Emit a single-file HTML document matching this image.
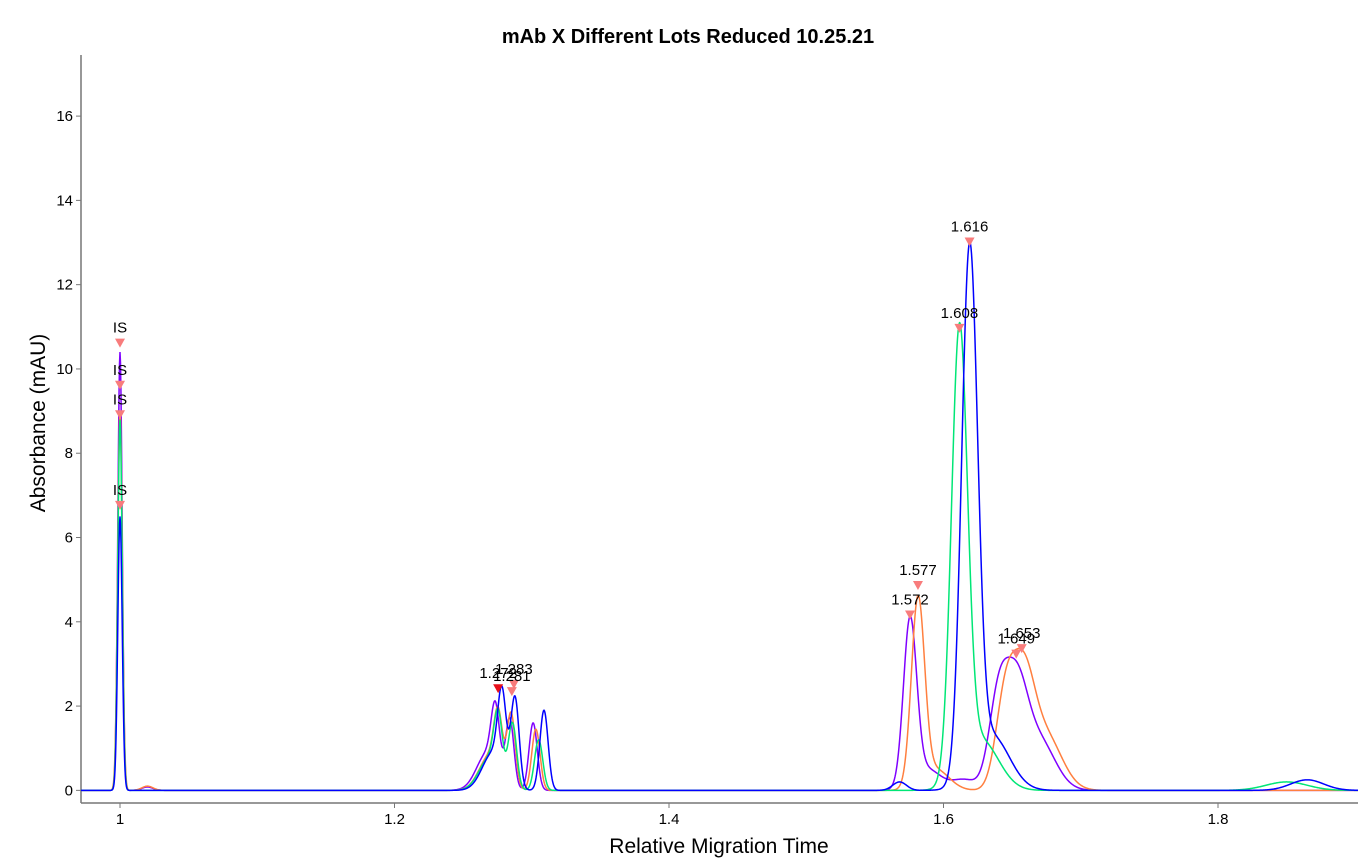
<!DOCTYPE html>
<html><head><meta charset="utf-8"><style>
body{margin:0;background:#fff;}
svg{display:block;font-family:"Liberation Sans",Arial,sans-serif;}
</style></head><body>
<svg id="chart" width="1358" height="861" viewBox="0 0 1358 861" xmlns="http://www.w3.org/2000/svg">
<text x="688" y="43" text-anchor="middle" font-size="20" font-weight="bold">mAb X Different Lots Reduced 10.25.21</text>
<text transform="translate(45,423) rotate(-90)" text-anchor="middle" font-size="21">Absorbance (mAU)</text>
<text x="719" y="853" text-anchor="middle" font-size="21">Relative Migration Time</text>
<g id="grid"></g>
<g id="series"></g>
<g id="marks"></g>
</svg>
<script>
const xTicks=[1.0,1.2,1.4,1.6,1.8];
const xTickLabels=["1","1.2","1.4","1.6","1.8"];
const yTicks=[0,2,4,6,8,10,12,14,16];
const yTickLabels=["0","2","4","6","8","10","12","14","16"];
const seriesNames=["lot-purple","lot-orange","lot-green","lot-blue"];
const seriesColors=["#7f00ff","#ff7f3f","#00e676","#0000ff"];
// peaks per series: [center, height, sigma]
const purplePeaks=[[1.0,10.4,0.0016],[1.02,0.08,0.004],[1.268,0.9,0.008],[1.2735,1.4,0.003],[1.284,1.6,0.003],[1.301,1.6,0.003],[1.5756,3.9,0.0048],[1.588,0.5,0.01],[1.615,0.25,0.009],[1.640,2.1,0.007],[1.653,2.2,0.008],[1.669,1.2,0.012]];
const orangePeaks=[[1.0,9.0,0.0017],[1.02,0.1,0.004],[1.270,0.85,0.008],[1.2755,1.3,0.003],[1.285,1.7,0.003],[1.303,1.45,0.003],[1.5814,4.4,0.0048],[1.594,0.5,0.01],[1.645,2.1,0.007],[1.658,2.4,0.008],[1.674,1.3,0.012]];
const greenPeaks=[[1.0,8.8,0.0016],[1.270,0.8,0.008],[1.2755,1.3,0.003],[1.286,1.5,0.003],[1.305,1.2,0.003],[1.6116,10.5,0.0058],[1.627,1.2,0.013],[1.85,0.2,0.015]];
const bluePeaks=[[1.0,6.5,0.0016],[1.272,0.9,0.008],[1.2783,1.8,0.003],[1.2878,2.1,0.003],[1.3089,1.9,0.003],[1.568,0.2,0.005],[1.619,12.4,0.0058],[1.635,1.3,0.013],[1.865,0.25,0.012]];
const allPeaks=[purplePeaks,orangePeaks,greenPeaks,bluePeaks];
const markerTimes=[1.0,1.0,1.0,1.0,1.619,1.6116,1.5814,1.5756,1.657,1.653,1.2755,1.287,1.2855];
const markerValues=[10.6,9.6,8.9,6.75,13.0,10.95,4.85,4.15,3.35,3.22,2.4,2.5,2.33];
const markerLabels=["IS","IS","IS","IS","1.616","1.608","1.577","1.572","1.653","1.649","1.272","1.283","1.281"];
const markerColors=["#f87c7c","#f87c7c","#f87c7c","#f87c7c","#f87c7c","#f87c7c","#f87c7c","#f87c7c","#f87c7c","#f87c7c","#e8101a","#f87c7c","#f87c7c"];

const X0=0.97158,X1=1.902,PX0=81,PX1=1358;
const Y0=-0.3,Y1=17.45,PY0=803,PY1=55;
const sx=v=>PX0+(v-X0)/(X1-X0)*(PX1-PX0);
const sy=v=>PY0-(v-Y0)/(Y1-Y0)*(PY0-PY1);
const NS="http://www.w3.org/2000/svg";
function mk(tag,attrs,parent){const e=document.createElementNS(NS,tag);for(const k in attrs)e.setAttribute(k,attrs[k]);parent.appendChild(e);return e;}
const grid=document.getElementById('grid');
let l=mk('line',{x1:PX0,y1:PY1,x2:PX0,y2:PY0,stroke:'#777','stroke-width':1.5},grid);


l=mk('line',{x1:PX0,y1:PY0,x2:PX1,y2:PY0,stroke:'#777','stroke-width':1.5},grid);


xTicks.forEach((t,i)=>{const x=sx(t);
 const tk=mk('line',{x1:x,y1:PY0,x2:x,y2:PY0+5,stroke:'#777'},grid);
 
 
 const tx=mk('text',{x:x,y:PY0+21,'text-anchor':'middle','font-size':15},grid);tx.textContent=xTickLabels[i];
 
 });
yTicks.forEach((t,i)=>{const y=sy(t);
 const tk=mk('line',{x1:PX0-5,y1:y,x2:PX0,y2:y,stroke:'#777'},grid);
 
 
 const tx=mk('text',{x:PX0-8,y:y+5,'text-anchor':'end','font-size':15},grid);tx.textContent=yTickLabels[i];
 
 });
const sg=document.getElementById('series');
allPeaks.forEach((peaks,si)=>{let d='';
 for(let px=PX0;px<=PX1;px+=0.5){const t=X0+(px-PX0)/(PX1-PX0)*(X1-X0);let v=0;
  peaks.forEach(p=>{v+=p[1]*Math.exp(-0.5*Math.pow((t-p[0])/p[2],2));});
  d+=(d?'L':'M')+px.toFixed(1)+','+sy(v).toFixed(2);}
 const p=mk('path',{d:d,fill:'none',stroke:seriesColors[si],'stroke-width':1.5},sg);
 
 });
const mg=document.getElementById('marks');
markerTimes.forEach((t,i)=>{const x=sx(t),y=sy(markerValues[i]);
 const tri=mk('path',{d:`M${x-5},${y-5}L${x+5},${y-5}L${x},${y+4}Z`,fill:markerColors[i]},mg);
 
 
 const tx=mk('text',{x:x,y:y-11,'text-anchor':'middle','font-size':15},mg);tx.textContent=markerLabels[i];
 
 });
</script>
</body></html>
